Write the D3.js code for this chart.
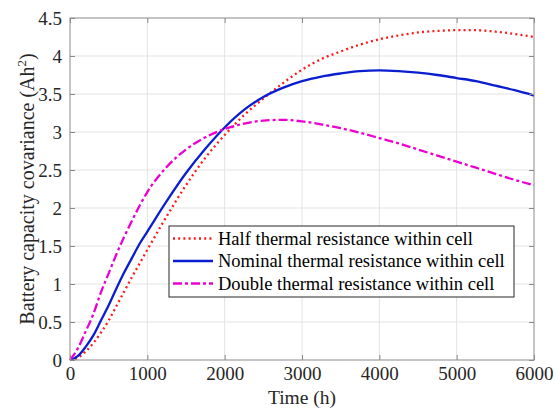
<!DOCTYPE html>
<html lang="en">
<head>
    <meta charset="UTF-8">
    <title>Battery capacity covariance</title>
    <script src="https://d3js.org/d3.v7.min.js"></script>
    <style>
        body { margin: 0; background: #fff; }
        svg { display: block; font-family: 'Liberation Serif', 'Times New Roman', serif; }
        .grid line { stroke: #e3e3e3; stroke-width: 1; }
        .axis path, .axis line { stroke: #8a8a8a; }
        .axis text { fill: #262626; font-size: 19px; font-family: 'Liberation Serif', 'Times New Roman', serif; }
    </style>
</head>
<body>
    <svg width="555" height="414"></svg>
    <script>
        // Data
        const timeHours = [0, 100, 200, 300, 400, 500, 600, 700, 800, 900, 1000,
                           1250, 1500, 1750, 2000, 2250, 2500, 2750, 3000, 3250, 3500, 3750,
                           4000, 4250, 4500, 4750, 5000, 5250, 5500, 5750, 6000];
        const halfResistance = [0, 0.03, 0.11, 0.22, 0.36, 0.52, 0.71, 0.90, 1.09, 1.27, 1.45,
                                1.89, 2.30, 2.66, 2.96, 3.22, 3.44, 3.64, 3.82, 3.96, 4.06, 4.15,
                                4.22, 4.27, 4.31, 4.33, 4.34, 4.34, 4.32, 4.29, 4.25];
        const nominalResistance = [0, 0.05, 0.17, 0.32, 0.52, 0.72, 0.94, 1.15, 1.34, 1.53, 1.69,
                                   2.09, 2.46, 2.78, 3.06, 3.29, 3.46, 3.58, 3.67, 3.73, 3.77, 3.80,
                                   3.81, 3.80, 3.78, 3.75, 3.71, 3.67, 3.61, 3.55, 3.48];
        const doubleResistance = [0, 0.15, 0.37, 0.60, 0.89, 1.14, 1.39, 1.62, 1.83, 2.03, 2.21,
                                  2.54, 2.77, 2.93, 3.04, 3.11, 3.15, 3.16, 3.14, 3.10, 3.05, 2.99,
                                  2.92, 2.85, 2.77, 2.69, 2.61, 2.53, 2.45, 2.37, 2.30];
        const seriesNames = ["Half thermal resistance within cell",
                             "Nominal thermal resistance within cell",
                             "Double thermal resistance within cell"];
        const xTicks = [0, 1000, 2000, 3000, 4000, 5000, 6000];
        const yTicks = [0, 0.5, 1, 1.5, 2, 2.5, 3, 3.5, 4, 4.5];

        const series = [
            { name: seriesNames[0], values: halfResistance, color: "#ff1a1a", dash: "2,3.2" },
            { name: seriesNames[1], values: nominalResistance, color: "#0a1ecf", dash: null },
            { name: seriesNames[2], values: doubleResistance, color: "#ec00d0", dash: "9,3,3,3" }
        ];

        const svg = d3.select("svg");
        const margin = { left: 70, top: 18, right: 21, bottom: 54 };
        const width = 555 - margin.left - margin.right;
        const height = 414 - margin.top - margin.bottom;

        const x = d3.scaleLinear().domain([0, 6000]).range([0, width]);
        const y = d3.scaleLinear().domain([0, 4.5]).range([height, 0]);

        const g = svg.append("g").attr("transform", `translate(${margin.left},${margin.top})`);

        // grid
        g.append("g").attr("class", "grid")
            .selectAll("line").data(xTicks.slice(1, -1)).enter().append("line")
            .attr("x1", d => x(d)).attr("x2", d => x(d)).attr("y1", 0).attr("y2", height);
        g.append("g").attr("class", "grid")
            .selectAll("line").data(yTicks.slice(1, -1)).enter().append("line")
            .attr("x1", 0).attr("x2", width).attr("y1", d => y(d)).attr("y2", d => y(d));

        // lines
        const line = d3.line()
            .x((d, i) => x(timeHours[i]))
            .y(d => y(d))
            .curve(d3.curveMonotoneX);

        g.selectAll("path.series").data(series).enter().append("path")
            .attr("class", "series")
            .attr("fill", "none")
            .attr("stroke", d => d.color)
            .attr("stroke-width", 2.3)
            .attr("stroke-dasharray", d => d.dash)
            .attr("d", d => line(d.values));

        // axes, ticks pointing inward on all sides
        g.append("g").attr("class", "axis")
            .attr("transform", `translate(0,${height})`)
            .call(d3.axisBottom(x).tickValues(xTicks).tickSizeInner(-5).tickSizeOuter(0).tickPadding(7).tickFormat(d3.format("d")));
        g.append("g").attr("class", "axis")
            .call(d3.axisLeft(y).tickValues(yTicks).tickSizeInner(-5).tickSizeOuter(0).tickPadding(8).tickFormat(d => String(d)));
        g.append("g").attr("class", "axis")
            .call(d3.axisTop(x).tickValues(xTicks).tickSizeInner(-5).tickSizeOuter(0).tickFormat(""));
        g.append("g").attr("class", "axis")
            .attr("transform", `translate(${width},0)`)
            .call(d3.axisRight(y).tickValues(yTicks).tickSizeInner(-5).tickSizeOuter(0).tickFormat(""));
        g.selectAll(".axis .domain").remove();
        g.append("rect")
            .attr("width", width).attr("height", height)
            .attr("fill", "none").attr("stroke", "#8a8a8a").attr("stroke-width", 1);

        // axis labels
        g.append("text")
            .attr("x", width / 2).attr("y", 404 - margin.top)
            .attr("text-anchor", "middle")
            .attr("font-size", 19.5).attr("fill", "#262626")
            .text("Time (h)");

        const yl = svg.append("text")
            .attr("transform", `translate(34,${margin.top + height / 2}) rotate(-90)`)
            .attr("text-anchor", "middle")
            .attr("font-size", 20).attr("fill", "#262626");
        yl.append("tspan").text("Battery capacity covariance (Ah");
        yl.append("tspan").attr("font-size", 13).attr("dy", -8).text("2");
        yl.append("tspan").attr("dy", 8).text(")");

        // legend
        const legend = g.append("g").attr("transform", `translate(${169 - margin.left},${226 - margin.top})`);
        legend.append("rect")
            .attr("width", 345).attr("height", 71)
            .attr("fill", "#fff").attr("stroke", "#262626").attr("stroke-width", 1);
        const item = legend.selectAll("g.item").data(series).enter().append("g")
            .attr("transform", (d, i) => `translate(0,${12.5 + i * 22.5})`);
        item.append("line")
            .attr("x1", 4).attr("x2", 44)
            .attr("stroke", d => d.color).attr("stroke-width", 2.3)
            .attr("stroke-dasharray", d => d.dash);
        item.append("text")
            .attr("x", 49).attr("dy", "0.35em")
            .attr("font-size", 18.5).attr("fill", "#000")
            .text(d => d.name);
    </script>
</body>
</html>
